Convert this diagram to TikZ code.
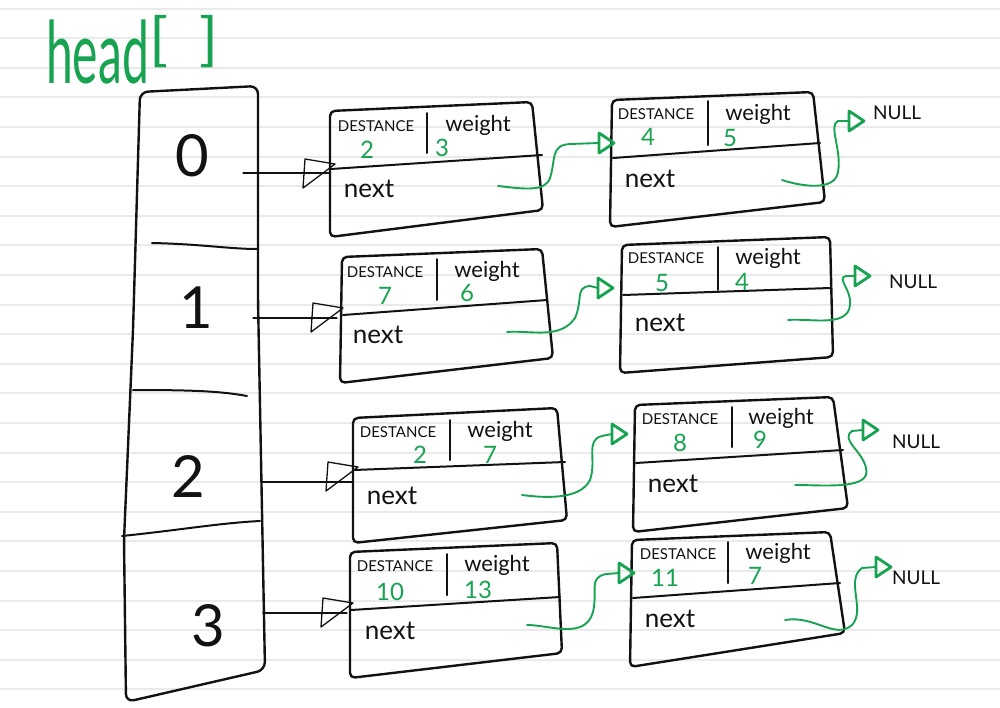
\documentclass[tikz,border=0pt]{standalone}
\usepackage{fontspec}
\setmainfont{Lato}
\definecolor{pen}{RGB}{18,18,18}
\definecolor{penGreen}{RGB}{24,163,82}
\definecolor{ruleGray}{RGB}{234,234,234}
\begin{document}
\begin{tikzpicture}[x=1pt,y=-1pt,
  box/.style={draw=pen,line width=2.4pt,rounded corners=5pt,line join=round},
  divline/.style={draw=pen,line width=2pt,line cap=round},
  thinpen/.style={draw=pen,line width=1.3pt,line join=round,line cap=round},
  gline/.style={draw=penGreen,line width=1.9pt,line cap=round},
  ghead/.style={draw=penGreen,line width=2.8pt,line join=round},
  destlbl/.style={inner sep=0pt,text=pen,font=\fontsize{15}{15}\selectfont},
  wlbl/.style={inner sep=0pt,text=pen,font=\fontsize{22}{22}\selectfont},
  nextlbl/.style={inner sep=0pt,text=pen,font=\fontsize{26}{26}\selectfont},
  numlbl/.style={inner sep=0pt,text=penGreen,font=\fontsize{24}{24}\selectfont},
  nulllbl/.style={inner sep=0pt,text=pen,font=\fontsize{19}{19}\selectfont},
  idxlbl/.style={inner sep=0pt,text=pen,font=\fontsize{58}{58}\selectfont}]
\useasboundingbox (0,0) rectangle (1000,707);
\fill[white] (0,0) rectangle (1000,707);
% ruled paper
\foreach \k in {0,...,23}
  \draw[ruleGray,line width=2pt] (0,{8.5+29.6*\k}) -- (1000,{8.5+29.6*\k});

% title
\node[inner sep=0pt,text=penGreen,anchor=west] (title) at (46,50)
  {\fontsize{48}{48}\selectfont\scalebox{1}[1.8]{head}\raisebox{24pt}{\scalebox{1.3}[1.2]{[\hspace{24pt}]}}};

% array
\draw[box,rounded corners=8pt] (140,92) -- (258,86) -- (258,300) -- (265,670) -- (126,702) -- (124,540) -- (133,330) -- cycle;
\draw[divline] (152,243) .. controls (200,244) and (230,249) .. (257,249);
\draw[divline] (133,390) .. controls (190,390) and (220,391) .. (247,396);
\draw[divline] (122,536) .. controls (180,530) and (220,523) .. (260,521);
\node[idxlbl] (i0) at (192,156) {0};
\node[idxlbl] (i1) at (196,308) {1};
\node[idxlbl] (i2) at (188,476) {2};
\node[idxlbl] (i3) at (208,626) {3};
\coordinate (c0) at (243,173);
\coordinate (c1) at (253,318);
\coordinate (c2) at (262,482);
\coordinate (c3) at (263,613);

% ---------- column 1 ----------
% row 0
\draw[box] (330,111) -- (532,102) -- (543,210) -- (330,237) -- cycle;
\draw[divline] (331,169) -- (542,155);
\draw[divline] (427,113) -- (427,153);
\node[destlbl] (d00) at (376,126) {DESTANCE};
\node[wlbl] (w00) at (478,125) {weight};
\node[numlbl] (n00a) at (367,150) {2};
\node[numlbl] (n00b) at (442,148) {3};
\node[nextlbl] (x00) at (369,189) {next};
\coordinate (t00) at (335,164);
\coordinate (s00) at (498,186);
\coordinate (e00) at (614,143);
% row 1
\draw[box] (342,257) -- (542,249) -- (553,358) -- (340,383) -- cycle;
\draw[divline] (343,315) -- (547,300);
\draw[divline] (437,259) -- (437,300);
\node[destlbl] (d10) at (385,272) {DESTANCE};
\node[wlbl] (w10) at (487,271) {weight};
\node[numlbl] (n10a) at (385,296) {7};
\node[numlbl] (n10b) at (467,293) {6};
\node[nextlbl] (x10) at (378,335) {next};
\coordinate (t10) at (343,308);
\coordinate (s10) at (507,332);
\coordinate (e10) at (613,288);
% row 2
\draw[box] (353,418) -- (557,408) -- (567,520) -- (353,543) -- cycle;
\draw[divline] (354,470) -- (565,462);
\draw[divline] (450,420) -- (450,460);
\node[destlbl] (d20) at (398,432) {DESTANCE};
\node[wlbl] (w20) at (500,431) {weight};
\node[numlbl] (n20a) at (420,455) {2};
\node[numlbl] (n20b) at (490,455) {7};
\node[nextlbl] (x20) at (392,496) {next};
\coordinate (t20) at (358,467);
\coordinate (s20) at (522,495);
\coordinate (e20) at (627,434);
% row 3
\draw[box] (350,552) -- (557,543) -- (562,653) -- (350,678) -- cycle;
\draw[divline] (351,610) -- (560,597);
\draw[divline] (447,554) -- (447,595);
\node[destlbl] (d30) at (395,566) {DESTANCE};
\node[wlbl] (w30) at (497,565) {weight};
\node[numlbl] (n30a) at (390,592) {10};
\node[numlbl] (n30b) at (478,590) {13};
\node[nextlbl] (x30) at (390,631) {next};
\coordinate (t30) at (353,603);
\coordinate (s30) at (527,625);
\coordinate (e30) at (634,573);

% ---------- column 2 ----------
% row 0
\draw[box] (612,100) -- (813,92) -- (825,202) -- (610,227) -- cycle;
\draw[divline] (613,158) -- (820,143);
\draw[divline] (708,101) -- (708,145);
\node[destlbl] (d01) at (656,114) {DESTANCE};
\node[wlbl] (w01) at (758,114) {weight};
\node[numlbl] (n01a) at (648,137) {4};
\node[numlbl] (n01b) at (730,138) {5};
\node[nextlbl] (x01) at (650,179) {next};
\coordinate (s01) at (782,180);
\coordinate (e01) at (864,121);
% row 1
\draw[box] (622,245) -- (830,237) -- (833,357) -- (620,373) -- cycle;
\draw[divline] (623,295) -- (830,288);
\draw[divline] (718,247) -- (718,290);
\node[destlbl] (d11) at (666,258) {DESTANCE};
\node[wlbl] (w11) at (768,258) {weight};
\node[numlbl] (n11a) at (662,283) {5};
\node[numlbl] (n11b) at (742,282) {4};
\node[nextlbl] (x11) at (660,323) {next};
\coordinate (s11) at (788,320);
\coordinate (e11) at (870,276);
% row 2
\draw[box] (635,405) -- (833,397) -- (848,508) -- (633,532) -- cycle;
\draw[divline] (636,463) -- (843,450);
\draw[divline] (732,407) -- (732,447);
\node[destlbl] (d21) at (680,419) {DESTANCE};
\node[wlbl] (w21) at (781,418) {weight};
\node[numlbl] (n21a) at (680,443) {8};
\node[numlbl] (n21b) at (760,440) {9};
\node[nextlbl] (x21) at (673,484) {next};
\coordinate (s21) at (795,485);
\coordinate (e21) at (878,430);
% row 3
\draw[box] (632,540) -- (830,532) -- (845,633) -- (630,667) -- cycle;
\draw[divline] (633,598) -- (840,583);
\draw[divline] (728,542) -- (728,583);
\node[destlbl] (d31) at (678,554) {DESTANCE};
\node[wlbl] (w31) at (778,553) {weight};
\node[numlbl] (n31a) at (665,578) {11};
\node[numlbl] (n31b) at (755,576) {7};
\node[nextlbl] (x31) at (670,619) {next};
\coordinate (s31) at (785,620);
\coordinate (e31) at (891,567);

% NULL labels
\node[nulllbl,anchor=west] (null0) at (873,113) {NULL};
\node[nulllbl,anchor=west] (null1) at (889,282) {NULL};
\node[nulllbl,anchor=west] (null2) at (892,442) {NULL};
\node[nulllbl,anchor=west] (null3) at (892,578) {NULL};

% array -> first nodes (thin black with open triangle)
\foreach \c/\t in {c0/t00,c1/t10,c2/t20,c3/t30}{
  \draw[thinpen] (\c) -- ([xshift=-6pt]\t |- \c);
  \draw[thinpen] (\t) -- ++(-30,-5) -- ++(-2,29) -- cycle;
}

% green open arrowheads
\foreach \e in {e00,e10,e20,e30,e01,e11,e21,e31}
  \draw[ghead] (\e) -- ++(-15,-10) -- ++(0,20) -- cycle;

% green links between columns
\draw[gline] (s00) .. controls (525,189) and (545,192) .. (550,178)
  .. controls (556,160) and (550,145) .. (570,144) -- ([xshift=-15pt]e00);
\draw[gline] (s10) .. controls (530,330) and (560,340) .. (575,318)
  .. controls (583,300) and (575,287) .. (590,286) -- ([xshift=-15pt]e10);
\draw[gline] (s20) .. controls (545,498) and (580,500) .. (590,480)
  .. controls (597,460) and (585,440) .. (602,436) -- ([xshift=-15pt]e20);
\draw[gline] (s30) .. controls (550,625) and (585,640) .. (593,612)
  .. controls (598,590) and (588,578) .. (606,574) -- ([xshift=-15pt]e30);

% green links to NULL
\draw[gline] (s01) .. controls (800,186) and (835,192) .. (838,172)
  .. controls (842,150) and (828,125) .. (838,121) -- ([xshift=-15pt]e01);
\draw[gline] (s11) .. controls (810,318) and (848,328) .. (850,305)
  .. controls (852,290) and (836,278) .. (846,276) -- ([xshift=-15pt]e11);
\draw[gline] (s21) .. controls (825,485) and (872,490) .. (866,468)
  .. controls (862,450) and (840,440) .. (852,431) -- ([xshift=-15pt]e21);
\draw[gline] (s31) .. controls (815,615) and (835,640) .. (852,625)
  .. controls (866,610) and (845,580) .. (862,568) -- ([xshift=-15pt]e31);
\end{tikzpicture}
\end{document}
